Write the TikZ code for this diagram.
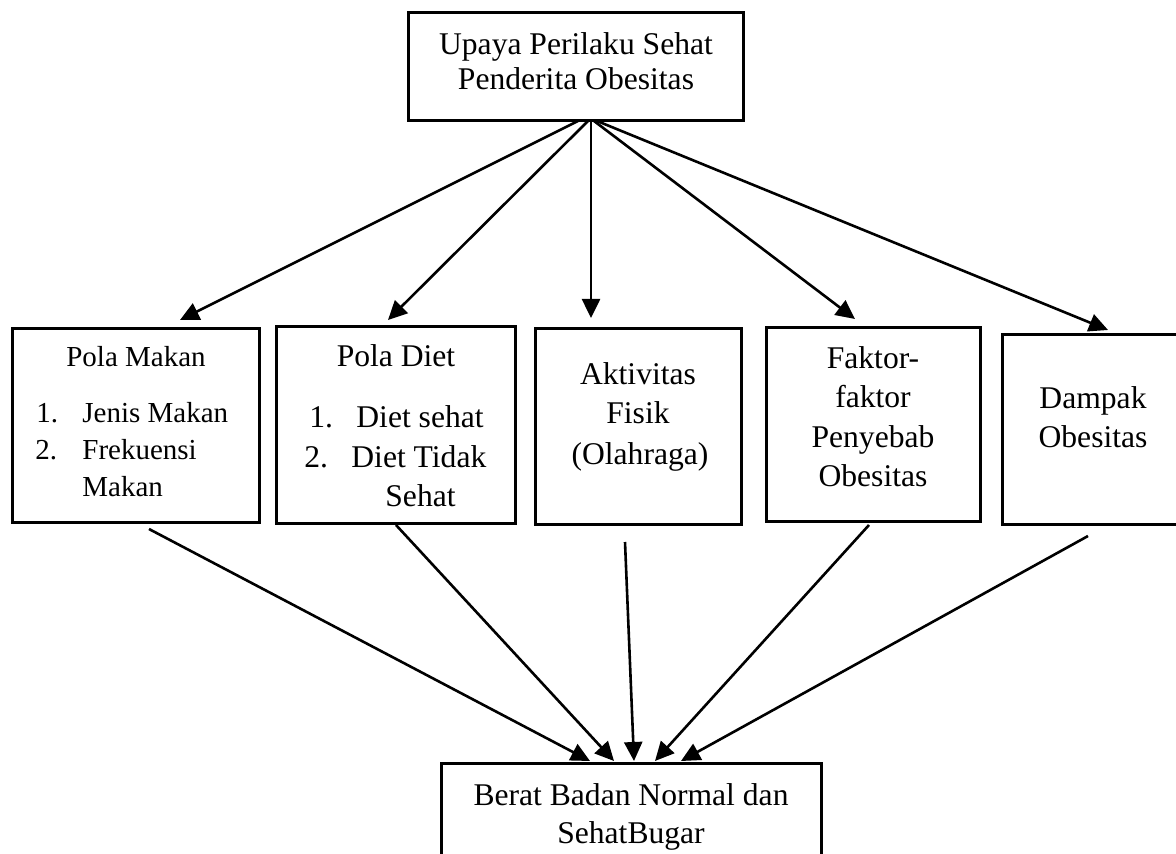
\documentclass[tikz,border=0pt]{standalone}
\usepackage{fontspec}
\setmainfont{Liberation Serif}
\usetikzlibrary{arrows.meta}
\begin{document}
\begin{tikzpicture}[x=0.5pt,y=-0.5pt,
  box/.style={draw,line width=1.5pt,inner sep=0pt,outer sep=0pt},
  txt/.style={inner sep=0pt,font=\fontsize{15.8pt}{18pt}\selectfont},
  stxt/.style={inner sep=0pt,font=\fontsize{14.5pt}{17pt}\selectfont},
  arr/.style={-{Triangle[length=9.5pt,width=9pt]},line width=1.3pt}]
\useasboundingbox (0,0) rectangle (1176,854);
\clip (0,0) rectangle (1176,854);
\fill[white] (0,0) rectangle (1176,854);
% boxes
\node[box,minimum width=167.5pt,minimum height=54pt] (top) at (575.5,67) {};
\node[box,minimum width=123.5pt,minimum height=97pt] (pm) at (136,426) {};
\node[box,minimum width=119.5pt,minimum height=98.5pt] (pd) at (395.5,425.5) {};
\node[box,minimum width=103pt,minimum height=98pt] (af) at (638,427) {};
\node[box,minimum width=107pt,minimum height=97pt] (fp) at (873,425) {};
\node[box,minimum width=91pt,minimum height=95pt] (do) at (1093,430) {};
\node[box,minimum width=190pt,minimum height=68.5pt] (bb) at (631,831.5) {};
% texts
\node[txt,anchor=base] (t1) at (576,55) {Upaya Perilaku Sehat};
\node[txt,anchor=base] (t2) at (576,90) {Penderita Obesitas};
\node[stxt,anchor=base] (pm0) at (136,367) {Pola Makan};
\node[stxt,anchor=base west] (pm1n) at (36,423) {1.};
\node[stxt,anchor=base west] (pm1) at (82,423) {Jenis Makan};
\node[stxt,anchor=base west] (pm2n) at (35,460) {2.};
\node[stxt,anchor=base west] (pm2) at (82,460) {Frekuensi};
\node[stxt,anchor=base west] (pm3) at (82,497) {Makan};
\node[txt,anchor=base] (pd0) at (396,367) {Pola Diet};
\node[txt,anchor=base west] (pd1n) at (309,428) {1.};
\node[txt,anchor=base west] (pd1) at (356,428) {Diet sehat};
\node[txt,anchor=base west] (pd2n) at (304,468) {2.};
\node[txt,anchor=base west] (pd2) at (351,468) {Diet Tidak};
\node[txt,anchor=base west] (pd3) at (385,507) {Sehat};
\node[txt,anchor=base] (af1) at (638,385) {Aktivitas};
\node[txt,anchor=base] (af2) at (638,424) {Fisik};
\node[txt,anchor=base] (af3) at (640,465) {(Olahraga)};
\node[txt,anchor=base] (fp1) at (873,369) {Faktor-};
\node[txt,anchor=base] (fp2) at (873,408) {faktor};
\node[txt,anchor=base] (fp3) at (873,448) {Penyebab};
\node[txt,anchor=base] (fp4) at (873,487) {Obesitas};
\node[txt,anchor=base] (do1) at (1093,409) {Dampak};
\node[txt,anchor=base] (do2) at (1093,448) {Obesitas};
\node[txt,anchor=base] (bb1) at (631,805) {Berat Badan Normal dan};
\node[txt,anchor=base] (bb2) at (631,843) {SehatBugar};
% connector ends
\coordinate (s1) at (578,121);
\coordinate (s2) at (588,121);
\coordinate (s3) at (591,121);
\coordinate (s4) at (594,121);
\coordinate (s5) at (597,121);
\coordinate (e1) at (180,320);
\coordinate (e2) at (388,320);
\coordinate (e3) at (591,318);
\coordinate (e4) at (855,319);
\coordinate (e5) at (1108,330);
\coordinate (u1) at (149,529);
\coordinate (u2) at (396,525);
\coordinate (u3) at (625,542);
\coordinate (u4) at (869,525);
\coordinate (u5) at (1088,536);
\coordinate (v1) at (590,761);
\coordinate (v2) at (614,761);
\coordinate (v3) at (634,761);
\coordinate (v4) at (655,761);
\coordinate (v5) at (681,761);
% connectors
\draw[arr] (s1) -- (e1);
\draw[arr] (s2) -- (e2);
\draw[arr] (s3) -- (e3);
\draw[arr] (s4) -- (e4);
\draw[arr] (s5) -- (e5);
\draw[arr] (u1) -- (v1);
\draw[arr] (u2) -- (v2);
\draw[arr] (u3) -- (v3);
\draw[arr] (u4) -- (v4);
\draw[arr] (u5) -- (v5);
\end{tikzpicture}
\end{document}
